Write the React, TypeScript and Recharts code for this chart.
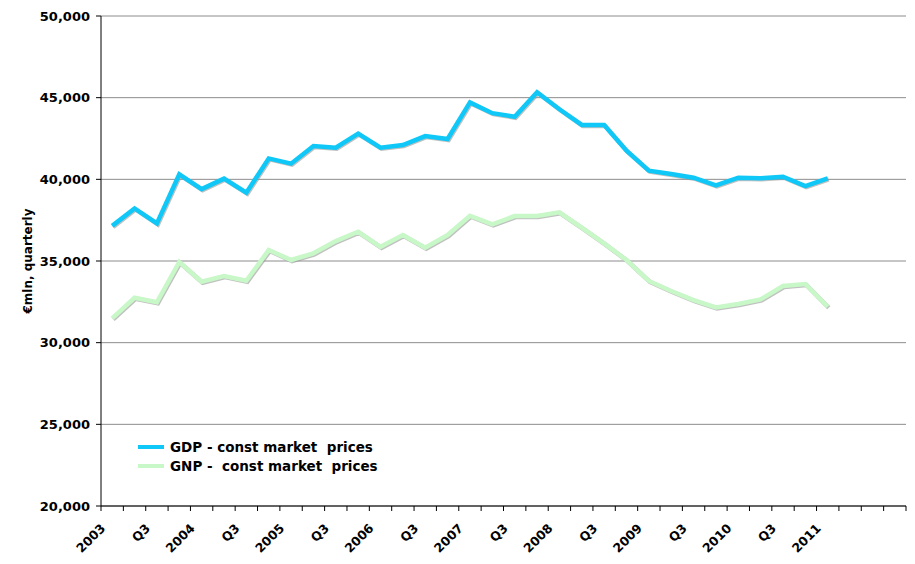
import { CartesianGrid, Legend, Line, LineChart, XAxis, YAxis } from "recharts";

const QUARTERS = [
  "2003Q1", "2003Q2", "2003Q3", "2003Q4",
  "2004Q1", "2004Q2", "2004Q3", "2004Q4",
  "2005Q1", "2005Q2", "2005Q3", "2005Q4",
  "2006Q1", "2006Q2", "2006Q3", "2006Q4",
  "2007Q1", "2007Q2", "2007Q3", "2007Q4",
  "2008Q1", "2008Q2", "2008Q3", "2008Q4",
  "2009Q1", "2009Q2", "2009Q3", "2009Q4",
  "2010Q1", "2010Q2", "2010Q3", "2010Q4",
  "2011Q1", "2011Q2", "2011Q3", "2011Q4",
];

const TICK_LABELS = [
  "2003", "", "Q3", "",
  "2004", "", "Q3", "",
  "2005", "", "Q3", "",
  "2006", "", "Q3", "",
  "2007", "", "Q3", "",
  "2008", "", "Q3", "",
  "2009", "", "Q3", "",
  "2010", "", "Q3", "",
  "2011", "", "", "",
];

const GDP = [
  37150, 38220, 37300, 40300, 39400, 40040, 39180, 41280,
  40960, 42040, 41940, 42800, 41940, 42100, 42650, 42470,
  44710, 44050, 43830, 45330, 44290, 43330, 43330, 41750,
  40530, 40330, 40100, 39630, 40100, 40060, 40160, 39590,
  40060, null, null, null,
];

const GNP = [
  31490, 32750, 32470, 34940, 33730, 34080, 33790, 35670,
  35060, 35470, 36220, 36790, 35870, 36590, 35810, 36590,
  37770, 37250, 37750, 37750, 37980, 37040, 36080, 35060,
  33780, 33160, 32610, 32160, 32370, 32650, 33470, 33590,
  32200, null, null, null,
];

const Y_TICKS = [20000, 25000, 30000, 35000, 40000, 45000, 50000];

const GDP_NAME = "GDP - const market  prices";
const GNP_NAME = "GNP -  const market  prices";

const GDP_COLOR = "#0fc8f7";
const GNP_COLOR = "#c8f7c8";

const WIDTH = 915;
const HEIGHT = 564;
const MARGIN = { top: 16, right: 9, bottom: 0, left: 0 };
const Y_AXIS_W = 101;
const X_AXIS_H = 58;
const PLOT_W = WIDTH - MARGIN.left - MARGIN.right - Y_AXIS_W;
const HALF_BAND = PLOT_W / QUARTERS.length / 2;

const FONT = "'DejaVu Sans', Verdana, sans-serif";

const data = QUARTERS.map((q, i) => ({ q, gdp: GDP[i], gnp: GNP[i] }));

function XTick(props: any) {
  const { x, y, index } = props;
  const label = TICK_LABELS[index];
  const last = index === QUARTERS.length - 1;
  const ax = x - 6;
  const ay = y + 23;
  return (
    <g>
      <line x1={x - HALF_BAND} x2={x - HALF_BAND} y1={y} y2={y + 5} stroke="#000" />
      {last && <line x1={x + HALF_BAND} x2={x + HALF_BAND} y1={y} y2={y + 5} stroke="#000" />}
      {label && (
        <text
          x={ax}
          y={ay}
          transform={`rotate(-45, ${ax}, ${ay})`}
          textAnchor="end"
          fontFamily={FONT}
          fontWeight="bold"
          fontSize={12.5}
          fill="#000"
        >
          {label}
        </text>
      )}
    </g>
  );
}

function LegendBox() {
  const rows = [
    { name: GDP_NAME, color: GDP_COLOR },
    { name: GNP_NAME, color: GNP_COLOR },
  ];
  return (
    <div style={{ fontFamily: FONT, fontWeight: "bold", fontSize: 13.5, color: "#000" }}>
      {rows.map((r) => (
        <div key={r.name} style={{ display: "flex", alignItems: "center", height: 19 }}>
          <span style={{ display: "inline-block", width: 26, height: 4, background: r.color, marginLeft: 3, marginRight: 6 }} />
          <span style={{ whiteSpace: "pre" }}>{r.name}</span>
        </div>
      ))}
    </div>
  );
}

export default function App() {
  return (
    <div style={{ position: "absolute", left: 0, top: 0, width: WIDTH, height: HEIGHT, background: "#fff" }}>
      <style>{`.shadowed .recharts-line-curve { filter: drop-shadow(1px 1.5px 0.6px rgba(150,150,150,0.6)); }`}</style>
      <LineChart width={WIDTH} height={HEIGHT} data={data} margin={MARGIN}>
        <CartesianGrid vertical={false} stroke="#8c8c8c" />
        <XAxis
          dataKey="q"
          scale="band"
          height={X_AXIS_H}
          interval={0}
          tickLine={false}
          tickSize={0}
          tickMargin={0}
          axisLine={{ stroke: "#000" }}
          tick={<XTick />}
        />
        <YAxis
          width={Y_AXIS_W}
          domain={[20000, 50000]}
          ticks={Y_TICKS}
          tickFormatter={(v: number) => v.toLocaleString("en-US")}
          axisLine={{ stroke: "#000" }}
          tickLine={{ stroke: "#000" }}
          tickSize={5}
          tickMargin={6}
          tick={{ fontFamily: FONT, fontWeight: "bold", fontSize: 13, fill: "#000" }}
          label={{
            value: "€mln, quarterly",
            angle: -90,
            position: "insideLeft",
            offset: 28,
            style: { textAnchor: "middle", fontFamily: FONT, fontWeight: "bold", fontSize: 12, fill: "#000" },
          }}
        />
        <Legend
          layout="horizontal"
          verticalAlign="middle"
          align="center"
          content={<LegendBox />}
          wrapperStyle={{ left: 135, top: 437, width: 300 }}
        />
        <Line
          className="shadowed"
          type="linear"
          dataKey="gnp"
          name={GNP_NAME}
          stroke={GNP_COLOR}
          strokeWidth={4.5}
          dot={false}
          activeDot={false}
          isAnimationActive={false}
        />
        <Line
          className="shadowed"
          type="linear"
          dataKey="gdp"
          name={GDP_NAME}
          stroke={GDP_COLOR}
          strokeWidth={4.5}
          dot={false}
          activeDot={false}
          isAnimationActive={false}
        />
      </LineChart>
    </div>
  );
}
